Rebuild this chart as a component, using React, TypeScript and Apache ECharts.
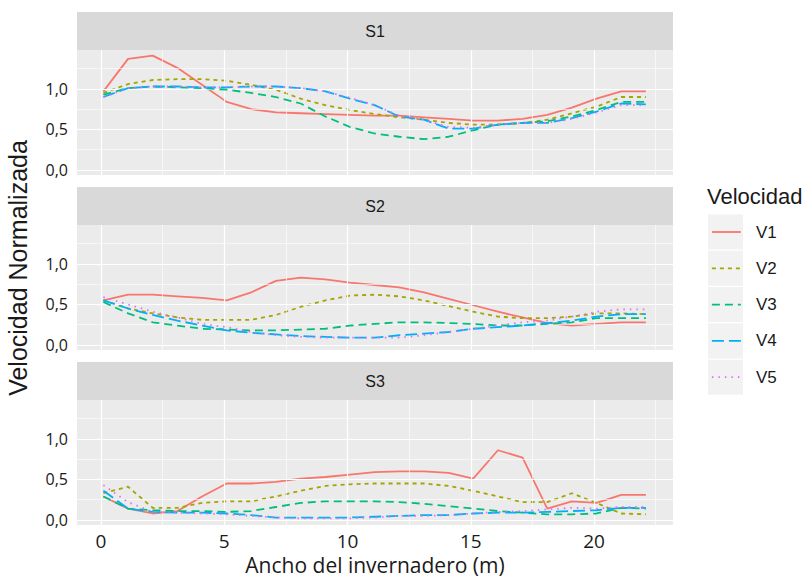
import React, { useEffect, useRef } from 'react';
import * as echarts from 'echarts';

const xs = [0.1, 1.1, 2.1, 3.1, 4.1, 5.1, 6.1, 7.1, 8.1, 9.1, 10.1, 11.1, 12.1, 13.1, 14.1, 15.1, 16.1, 17.1, 18.1, 19.1, 20.1, 21.1, 22.1];
const seriesNames = ['V1', 'V2', 'V3', 'V4', 'V5'];
const panelNames = ['S1', 'S2', 'S3'];
const yTicks = [0, 0.5, 1.0];
const yMinor = [0.25, 0.75, 1.25];
const xTicks = [0, 5, 10, 15, 20];
const xMinor = [2.5, 7.5, 12.5, 17.5, 22.5];

const s1V1 = [0.97, 1.37, 1.41, 1.26, 1.05, 0.84, 0.75, 0.71, 0.70, 0.69, 0.68, 0.67, 0.67, 0.65, 0.63, 0.61, 0.61, 0.63, 0.68, 0.77, 0.88, 0.97, 0.97];
const s1V2 = [0.95, 1.06, 1.11, 1.12, 1.12, 1.10, 1.05, 0.99, 0.88, 0.80, 0.74, 0.69, 0.65, 0.62, 0.58, 0.56, 0.56, 0.58, 0.62, 0.70, 0.78, 0.90, 0.90];
const s1V3 = [0.93, 1.01, 1.03, 1.02, 1.01, 0.99, 0.95, 0.90, 0.82, 0.66, 0.53, 0.45, 0.41, 0.38, 0.41, 0.49, 0.56, 0.58, 0.60, 0.66, 0.74, 0.84, 0.84];
const s1V4 = [0.90, 1.01, 1.03, 1.03, 1.02, 1.02, 1.03, 1.03, 1.01, 0.97, 0.88, 0.80, 0.66, 0.62, 0.51, 0.51, 0.56, 0.58, 0.58, 0.64, 0.72, 0.82, 0.81];
const s1V5 = [0.90, 1.01, 1.03, 1.03, 1.02, 1.02, 1.03, 1.03, 1.01, 0.97, 0.89, 0.80, 0.67, 0.62, 0.53, 0.52, 0.56, 0.58, 0.58, 0.63, 0.71, 0.80, 0.80];

const s2V1 = [0.55, 0.62, 0.62, 0.60, 0.58, 0.55, 0.65, 0.79, 0.83, 0.81, 0.77, 0.74, 0.71, 0.65, 0.57, 0.49, 0.41, 0.34, 0.27, 0.24, 0.26, 0.28, 0.28];
const s2V2 = [0.55, 0.45, 0.39, 0.34, 0.31, 0.31, 0.31, 0.37, 0.47, 0.55, 0.61, 0.62, 0.60, 0.55, 0.48, 0.41, 0.35, 0.33, 0.33, 0.35, 0.39, 0.39, 0.38];
const s2V3 = [0.53, 0.39, 0.28, 0.24, 0.20, 0.19, 0.18, 0.18, 0.19, 0.20, 0.24, 0.26, 0.28, 0.28, 0.27, 0.26, 0.24, 0.24, 0.26, 0.28, 0.33, 0.33, 0.33];
const s2V4 = [0.55, 0.45, 0.37, 0.30, 0.24, 0.18, 0.15, 0.13, 0.11, 0.10, 0.09, 0.09, 0.12, 0.14, 0.16, 0.20, 0.22, 0.24, 0.27, 0.30, 0.35, 0.38, 0.38];
const s2V5 = [0.59, 0.50, 0.41, 0.34, 0.26, 0.22, 0.16, 0.12, 0.10, 0.09, 0.09, 0.09, 0.09, 0.12, 0.16, 0.20, 0.24, 0.28, 0.30, 0.35, 0.41, 0.44, 0.44];

const s3V1 = [0.29, 0.14, 0.08, 0.11, 0.29, 0.45, 0.45, 0.47, 0.51, 0.53, 0.56, 0.59, 0.60, 0.60, 0.58, 0.51, 0.86, 0.77, 0.14, 0.23, 0.21, 0.31, 0.31];
const s3V2 = [0.33, 0.41, 0.15, 0.15, 0.21, 0.23, 0.23, 0.29, 0.36, 0.42, 0.44, 0.45, 0.45, 0.45, 0.42, 0.36, 0.29, 0.22, 0.22, 0.33, 0.21, 0.08, 0.07];
const s3V3 = [0.29, 0.14, 0.12, 0.11, 0.11, 0.10, 0.11, 0.16, 0.21, 0.23, 0.23, 0.23, 0.22, 0.20, 0.17, 0.14, 0.11, 0.09, 0.07, 0.07, 0.08, 0.15, 0.14];
const s3V4 = [0.36, 0.14, 0.10, 0.09, 0.09, 0.08, 0.06, 0.03, 0.03, 0.03, 0.03, 0.04, 0.05, 0.06, 0.06, 0.08, 0.09, 0.09, 0.10, 0.11, 0.12, 0.15, 0.15];
const s3V5 = [0.43, 0.22, 0.10, 0.09, 0.08, 0.07, 0.05, 0.03, 0.02, 0.02, 0.02, 0.03, 0.05, 0.05, 0.06, 0.08, 0.10, 0.11, 0.13, 0.15, 0.14, 0.16, 0.16];

const panelData = [
  [s1V1, s1V2, s1V3, s1V4, s1V5],
  [s2V1, s2V2, s2V3, s2V4, s2V5],
  [s3V1, s3V2, s3V3, s3V4, s3V5],
];

const COLORS = ['#F8766D', '#A3A500', '#00BF7D', '#00B0F6', '#E76BF3'];
const DASHES: any[] = ['solid', [4, 4], [8, 5], [12, 5], [1.5, 5]];

const GRID_LEFT = 77;
const GRID_W = 596;
const GRID_H = 125;
const GRID_TOPS = [50, 225, 400];
const STRIP_H = 38;
const Y_MIN = -0.062;
const Y_MAX = 1.48;
const X_MIN = -0.97;
const X_MAX = 23.2;

const fmtComma = (v: number) => v.toFixed(1).replace('.', ',');

export default function App() {
  const ref = useRef<HTMLDivElement>(null);
  useEffect(() => {
    const chart = echarts.init(ref.current!, null, { renderer: 'svg' });

    const grids = GRID_TOPS.map((t) => ({
      left: GRID_LEFT, top: t, width: GRID_W, height: GRID_H,
      show: true, backgroundColor: '#EBEBEB', borderWidth: 0,
    }));

    const xAxes = GRID_TOPS.map((_, i) => ({
      type: 'value', gridIndex: i, min: X_MIN, max: X_MAX,
      axisLine: { show: false },
      splitLine: { show: false },
      axisTick: { show: i === 2, customValues: xTicks, length: 4, lineStyle: { color: '#333', width: 1 } },
      axisLabel: {
        show: i === 2, customValues: xTicks, margin: 6,
        fontFamily: 'Open Sans', fontSize: 19, color: '#1a1a1a',
        formatter: (v: number) => String(v),
      },
    }));

    const yAxes = GRID_TOPS.map((_, i) => ({
      type: 'value', gridIndex: i, min: Y_MIN, max: Y_MAX,
      axisLine: { show: false },
      splitLine: { show: false },
      axisTick: { show: true, customValues: yTicks, length: 4, lineStyle: { color: '#333', width: 1 } },
      axisLabel: {
        show: true, customValues: yTicks, margin: 9,
        fontFamily: 'Open Sans', fontSize: 16, color: '#1a1a1a',
        formatter: (v: number) => fmtComma(v),
      },
    }));

    const series: any[] = [];
    GRID_TOPS.forEach((_, gi) => {
      const lines: any[] = [];
      yTicks.forEach((v) => lines.push({ yAxis: v, lineStyle: { width: 1.2 } }));
      yMinor.forEach((v) => lines.push({ yAxis: v, lineStyle: { width: 0.6 } }));
      xTicks.forEach((v) => lines.push({ xAxis: v, lineStyle: { width: 1.2 } }));
      xMinor.forEach((v) => lines.push({ xAxis: v, lineStyle: { width: 0.6 } }));
      series.push({
        type: 'line', name: 'grid' + gi, xAxisIndex: gi, yAxisIndex: gi, data: [], z: 1,
        silent: true,
        markLine: {
          silent: true, symbol: ['none', 'none'], label: { show: false },
          lineStyle: { color: '#FFFFFF', type: 'solid', width: 1 },
          emphasis: { disabled: true },
          data: lines,
        },
      });
    });
    GRID_TOPS.forEach((_, gi) => {
      panelData[gi].forEach((vals, si) => {
        series.push({
          type: 'line', name: seriesNames[si], xAxisIndex: gi, yAxisIndex: gi, z: 3 + si,
          data: xs.map((x, k) => [x, vals[k]]),
          showSymbol: false, symbol: 'none', smooth: false,
          color: COLORS[si],
          lineStyle: { color: COLORS[si], width: 1.8, type: DASHES[si] },
          emphasis: { disabled: true },
        });
      });
    });

    const graphics: any[] = [];
    GRID_TOPS.forEach((t, i) => {
      graphics.push({
        type: 'rect', z: 0, shape: { x: GRID_LEFT, y: t - STRIP_H, width: GRID_W, height: STRIP_H },
        style: { fill: '#D9D9D9' },
      });
      graphics.push({
        type: 'text', z: 1, x: GRID_LEFT + GRID_W / 2, y: t - STRIP_H / 2,
        style: { text: panelNames[i], fill: '#1A1A1A', font: '16px "Liberation Sans"', textAlign: 'center', textVerticalAlign: 'middle' },
      });
    });
    for (let k = 0; k < seriesNames.length; k++) {
      graphics.push({
        type: 'rect', z: 0, shape: { x: 708, y: 214.5 + k * 36.3, width: 35, height: 35 },
        style: { fill: '#F2F2F2' },
      });
    }
    graphics.push({
      type: 'text', x: 707, y: 196,
      style: { text: 'Velocidad', fill: '#1A1A1A', font: '22px "Liberation Sans"', textAlign: 'left', textVerticalAlign: 'middle' },
    });
    graphics.push({
      type: 'text', x: GRID_LEFT + GRID_W / 2, y: 565,
      style: { text: 'Ancho del invernadero (m)', fill: '#1A1A1A', font: '21px "Open Sans"', textAlign: 'center', textVerticalAlign: 'middle' },
    });
    graphics.push({
      type: 'text', x: 18, y: 268, rotation: Math.PI / 2,
      style: { text: 'Velocidad Normalizada', fill: '#1A1A1A', font: '25px "Liberation Sans"', textAlign: 'center', textVerticalAlign: 'middle' },
    });

    chart.setOption({
      animation: false,
      backgroundColor: '#FFFFFF',
      grid: grids,
      xAxis: xAxes,
      yAxis: yAxes,
      series,
      legend: {
        orient: 'vertical', left: 711, top: 218, padding: 0,
        itemWidth: 29, itemHeight: 35, itemGap: 8.3,
        data: seriesNames, selectedMode: false,
        itemStyle: { opacity: 0, borderWidth: 0 },
        lineStyle: { width: 1.8 },
        textStyle: { fontFamily: 'Liberation Sans', fontSize: 17, color: '#1A1A1A', padding: [0, 0, 0, 10] },
      },
      graphic: graphics,
    });
    return () => chart.dispose();
  }, []);
  return <div ref={ref} style={{ position: 'absolute', left: 0, top: 0, width: 807, height: 578 }} />;
}
